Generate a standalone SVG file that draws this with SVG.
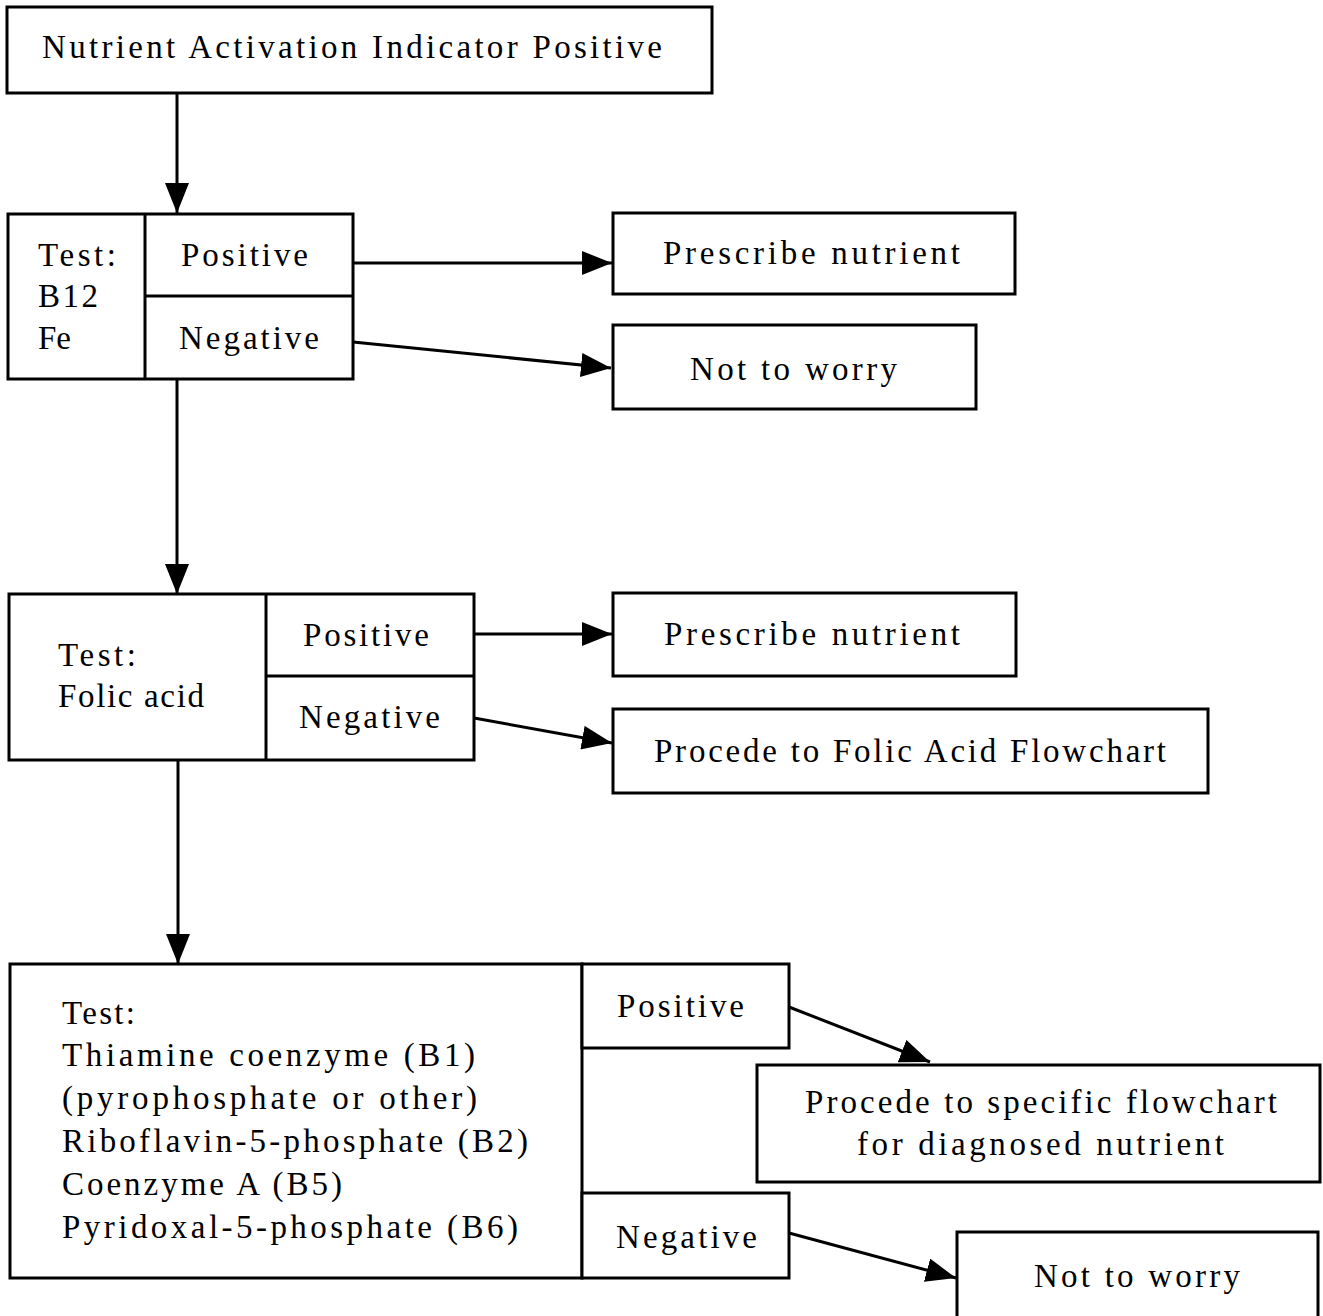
<svg xmlns="http://www.w3.org/2000/svg" width="1323" height="1316" viewBox="0 0 1323 1316">
<style>
.box{fill:#fff;stroke:#000;stroke-width:3}
.ln{fill:none;stroke:#000;stroke-width:3}
.t{font-family:"Liberation Serif","Times New Roman",serif;font-size:33px;fill:#000}
.c{stroke:#000;stroke-width:3;fill:none;marker-end:url(#ah)}
</style>
<defs>
<marker id="ah" markerUnits="userSpaceOnUse" markerWidth="31" markerHeight="24" refX="30" refY="12" orient="auto">
<path d="M0,0 L30,12 L0,24 z" fill="#000"/>
</marker>
</defs>
<rect width="1323" height="1316" fill="#fff"/>
<g id="connectors">
<line class="c" x1="177" y1="93" x2="177" y2="213"/>
<line class="c" x1="353" y1="263" x2="612" y2="263"/>
<line class="c" x1="353" y1="342" x2="611" y2="368"/>
<line class="c" x1="177" y1="379" x2="177" y2="594"/>
<line class="c" x1="474" y1="634" x2="612" y2="634"/>
<line class="c" x1="474" y1="718" x2="612" y2="743"/>
<line class="c" x1="178" y1="760" x2="178" y2="964"/>
<line class="c" x1="789" y1="1007" x2="930" y2="1062"/>
<line class="c" x1="789" y1="1233" x2="956" y2="1278"/>
</g>
<g id="start">
<rect class="box" x="7" y="7" width="705" height="86"/>
<text class="t" x="42" y="58" textLength="620" lengthAdjust="spacing">Nutrient Activation Indicator Positive</text>
</g>
<g id="test1">
<rect class="box" x="8" y="214" width="345" height="165"/>
<line class="ln" x1="145" y1="214" x2="145" y2="379"/>
<line class="ln" x1="145" y1="296" x2="353" y2="296"/>
<text class="t" x="38" y="266" textLength="78" lengthAdjust="spacing">Test:</text>
<text class="t" x="38" y="307" textLength="60" lengthAdjust="spacing">B12</text>
<text class="t" x="38" y="349" textLength="33" lengthAdjust="spacing">Fe</text>
<text class="t" x="181" y="266" textLength="127" lengthAdjust="spacing">Positive</text>
<text class="t" x="179" y="349" textLength="140" lengthAdjust="spacing">Negative</text>
</g>
<g id="prescribe1">
<rect class="box" x="613" y="213" width="402" height="81"/>
<text class="t" x="663" y="264" textLength="297" lengthAdjust="spacing">Prescribe nutrient</text>
</g>
<g id="noworry1">
<rect class="box" x="613" y="325" width="363" height="84"/>
<text class="t" x="690" y="380" textLength="207" lengthAdjust="spacing">Not to worry</text>
</g>
<g id="test2">
<rect class="box" x="9" y="594" width="465" height="166"/>
<line class="ln" x1="266" y1="594" x2="266" y2="760"/>
<line class="ln" x1="266" y1="676" x2="474" y2="676"/>
<text class="t" x="58" y="666" textLength="78" lengthAdjust="spacing">Test:</text>
<text class="t" x="58" y="707" textLength="146" lengthAdjust="spacing">Folic acid</text>
<text class="t" x="303" y="646" textLength="126" lengthAdjust="spacing">Positive</text>
<text class="t" x="299" y="728" textLength="141" lengthAdjust="spacing">Negative</text>
</g>
<g id="prescribe2">
<rect class="box" x="613" y="593" width="403" height="83"/>
<text class="t" x="664" y="645" textLength="296" lengthAdjust="spacing">Prescribe nutrient</text>
</g>
<g id="folic">
<rect class="box" x="613" y="709" width="595" height="84"/>
<text class="t" x="654" y="762" textLength="512" lengthAdjust="spacing">Procede to Folic Acid Flowchart</text>
</g>
<g id="test3">
<rect class="box" x="10" y="964" width="572" height="314"/>
<rect class="box" x="582" y="964" width="207" height="84"/>
<rect class="box" x="582" y="1193" width="207" height="85"/>
<text class="t" x="62" y="1024" textLength="73" lengthAdjust="spacing">Test:</text>
<text class="t" x="62" y="1066" textLength="413" lengthAdjust="spacing">Thiamine coenzyme (B1)</text>
<text class="t" x="62" y="1109" textLength="415" lengthAdjust="spacing">(pyrophosphate or other)</text>
<text class="t" x="62" y="1152" textLength="466" lengthAdjust="spacing">Riboflavin-5-phosphate (B2)</text>
<text class="t" x="62" y="1195" textLength="280" lengthAdjust="spacing">Coenzyme A (B5)</text>
<text class="t" x="62" y="1238" textLength="456" lengthAdjust="spacing">Pyridoxal-5-phosphate (B6)</text>
<text class="t" x="617" y="1017" textLength="127" lengthAdjust="spacing">Positive</text>
<text class="t" x="616" y="1248" textLength="141" lengthAdjust="spacing">Negative</text>
</g>
<g id="specific">
<rect class="box" x="757" y="1065" width="563" height="117"/>
<text class="t" x="805" y="1113" textLength="472" lengthAdjust="spacing">Procede to specific flowchart</text>
<text class="t" x="857" y="1155" textLength="367" lengthAdjust="spacing">for diagnosed nutrient</text>
</g>
<g id="noworry2">
<rect class="box" x="957" y="1232" width="361" height="100"/>
<text class="t" x="1034" y="1287" textLength="206" lengthAdjust="spacing">Not to worry</text>
</g>
</svg>
